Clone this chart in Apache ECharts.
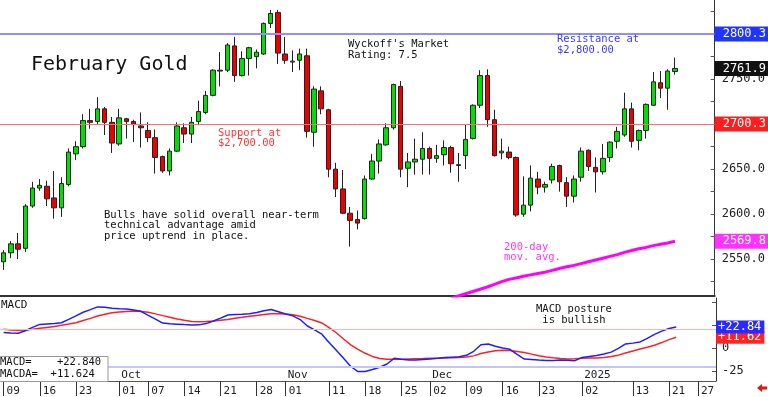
<!DOCTYPE html>
<html>
<head>
<meta charset="utf-8">
<title>February Gold</title>
<script src="https://cdn.jsdelivr.net/npm/echarts@6/dist/echarts.min.js"></script>
<style>
html, body { margin: 0; padding: 0; background: #fff; }
#chart { width: 768px; height: 397px; }
</style>
</head>
<body>
<div id="chart"></div>
<script>
// trading days (last five are empty slots on the right edge)
const dates = [
  '2024-09-09','2024-09-10','2024-09-11','2024-09-12','2024-09-13','2024-09-16','2024-09-17','2024-09-18','2024-09-19','2024-09-20','2024-09-23','2024-09-24','2024-09-25','2024-09-26','2024-09-27','2024-09-30',
  '2024-10-01','2024-10-02','2024-10-03','2024-10-04','2024-10-07','2024-10-08','2024-10-09','2024-10-10','2024-10-11','2024-10-14','2024-10-15','2024-10-16','2024-10-17','2024-10-18','2024-10-21','2024-10-22','2024-10-23','2024-10-24','2024-10-25','2024-10-28','2024-10-29','2024-10-30','2024-10-31',
  '2024-11-01','2024-11-04','2024-11-05','2024-11-06','2024-11-07','2024-11-08','2024-11-11','2024-11-12','2024-11-13','2024-11-14','2024-11-15','2024-11-18','2024-11-19','2024-11-20','2024-11-21','2024-11-22','2024-11-25','2024-11-26','2024-11-27','2024-11-29',
  '2024-12-02','2024-12-03','2024-12-04','2024-12-05','2024-12-06','2024-12-09','2024-12-10','2024-12-11','2024-12-12','2024-12-13','2024-12-16','2024-12-17','2024-12-18','2024-12-19','2024-12-20','2024-12-23','2024-12-24','2024-12-26','2024-12-27','2024-12-30','2024-12-31',
  '2025-01-02','2025-01-03','2025-01-06','2025-01-07','2025-01-08','2025-01-09','2025-01-10','2025-01-13','2025-01-14','2025-01-15','2025-01-16','2025-01-17','2025-01-21','2025-01-22',
  '2025-01-23','2025-01-24','2025-01-27','2025-01-28','2025-01-29'
];

const opens = [
  2547,2557,2567,2562,2609,2629,2631,2618,2607,2633,2667,2675,2704,2703,2717,2702,
  2678,2706,2703,2698,2693,2685,2664,2648,2670,2696,2689,2703,2713,2732,2760,2760,2787,2754,2773,2775,2778,2812,2824,
  2778,2769,2771,2776,2691,2737,2716,2650,2628,2601,2594,2595,2639,2659,2677,2696,2742,2651,2658,2661,
  2673,2662,2666,2674,2655,2665,2684,2721,2754,2705,2668,2669,2663,2600,2610,2639,2630,2638,2654,2635,2620,
  2641,2671,2652,2647,2663,2681,2688,2717,2682,2693,2721,2746,2740,2758.5
];
const highs = [
  2560,2570,2579,2611,2636,2639,2637,2648,2641,2673,2681,2711,2717,2730,2719,2708,
  2717,2707,2705,2713,2702,2694,2665,2673,2702,2701,2708,2726,2737,2761,2780,2790,2797,2781,2786,2783,2813,2827,2827,
  2797,2782,2784,2784,2742,2742,2717,2657,2649,2608,2604,2643,2667,2683,2701,2745,2748,2668,2684,2691,
  2675,2677,2682,2676,2668,2700,2722,2760,2761,2716,2684,2675,2664,2642,2654,2647,2636,2656,2655,2641,2643,
  2674,2672,2663,2678,2681,2697,2735,2724,2694,2723,2758,2759,2761,2774
];
const lows = [
  2538,2551,2550,2558,2607,2626,2609,2595,2597,2631,2660,2673,2695,2700,2688,2668,
  2676,2684,2680,2674,2680,2645,2646,2643,2669,2679,2679,2699,2711,2731,2742,2758,2747,2753,2754,2762,2777,2807,2767,
  2767,2758,2760,2685,2675,2711,2641,2619,2600,2564,2583,2594,2638,2645,2676,2694,2641,2630,2644,2644,
  2644,2657,2654,2646,2636,2650,2683,2718,2697,2664,2661,2661,2597,2597,2603,2622,2624,2634,2625,2608,2613,
  2636,2648,2624,2644,2658,2673,2686,2674,2671,2684,2720,2729,2716,2755
];
const closes = [
  2557,2567,2561,2609,2629,2632,2617,2607,2634,2669,2675,2704,2702,2717,2702,2679,
  2707,2703,2700,2696,2685,2663,2648,2670,2698,2689,2702,2714,2732,2760,2759,2788,2754,2773,2785,2780,2812,2823,2779,
  2771,2770,2778,2692,2739,2717,2650,2628,2601,2593,2590,2639,2659,2678,2696,2744,2650,2658,2661,2673,
  2662,2665,2674,2656,2654,2683,2721,2754,2705,2665,2670,2663,2599,2610,2640,2630,2633,2653,2636,2620,2639,
  2670,2653,2647,2662,2680,2692,2717,2681,2693,2722,2747,2740,2759,2761.9
];

// 200-day moving average, from 2024-12-05 on (earlier values are below the chart)
const ma200Tail = [
  2506.5,2509,2511.5,2514,2516.5,2519,2522,2525,2527.5,2529,2531,2532.5,2534,2535.5,2537.5,2539.5,2541.5,2543,
  2545,2547,2549,2551,2553,2555,2557.5,2559.5,2561.5,2563,2565,2566.5,2568,2569.8
];

const macd = [
  16.9,16.4,16.0,18.8,22.5,25.7,26.2,26.6,27.5,31.2,35.0,39.0,41.8,44.8,44.3,43.3,
  42.8,42.4,41.5,40.0,35.5,31.5,27.2,26.5,26.0,25.5,25.1,25.2,26.6,29.4,32.5,36.0,36.5,36.7,37.4,38.8,40.6,42.0,39.5,
  37.0,35.0,31.0,24.0,19.8,15.0,6.0,-2.5,-11.3,-20.2,-25.7,-25.7,-23.5,-21.0,-17.5,-11.3,-12.3,-13.0,-13.0,-12.5,
  -12.0,-11.3,-10.4,-10.0,-9.6,-8.0,-3.6,3.5,4.3,1.8,0.0,-1.4,-7.0,-12.1,-12.6,-13.2,-13.6,-13.6,-13.2,-13.4,-13.8,
  -10.3,-9.2,-8.2,-6.6,-4.5,-0.5,4.4,5.3,6.6,10.5,14.8,18.4,21.2,22.84
];
const macdAvg = [
  20.5,19.6,19.2,19.5,20.4,21.4,22.4,23.4,24.7,26.1,27.6,29.9,32.3,34.8,36.8,38.5,
  39.2,39.7,40.2,39.8,39.0,37.2,35.3,33.5,31.7,30.2,28.9,28.6,28.8,29.3,30.2,31.1,32.4,33.4,34.5,35.5,36.5,37.3,37.4,
  37.0,36.3,34.7,32.3,30.0,27.3,22.3,16.6,9.8,3.4,-1.5,-5.8,-9.2,-11.4,-12.3,-12.3,-12.3,-12.0,-11.8,-11.6,
  -11.3,-11.1,-10.9,-10.7,-10.5,-9.8,-8.6,-6.0,-4.3,-3.1,-2.5,-2.7,-3.8,-5.0,-6.7,-8.4,-9.8,-10.7,-11.5,-12.0,-11.8,
  -11.3,-11.0,-10.8,-10.3,-9.2,-7.8,-5.5,-3.2,-1.1,0.9,3.0,5.9,9.1,11.62
];

// axis labels
const dayTicks = ['2024-09-09','2024-09-16','2024-09-23','2024-10-01','2024-10-07','2024-10-14','2024-10-21','2024-10-28',
  '2024-11-01','2024-11-11','2024-11-18','2024-11-25','2024-12-02','2024-12-09','2024-12-16','2024-12-23',
  '2025-01-02','2025-01-13','2025-01-21','2025-01-27'];
const monthStarts = ['2024-10-01','2024-11-01','2024-12-02','2025-01-02'];
const monthNames = ['Oct','Nov','Dec','2025'];
const priceLabels = [2550, 2600, 2650, 2700, 2750, 2800];
const priceTicks = [2525, 2550, 2575, 2600, 2625, 2650, 2675, 2700, 2725, 2750, 2775, 2800, 2825];
const macdLabels = [0, -25];
const macdTicks = [-25, 0, 25, 50];

const resistance = 2800.3;
const support = 2700.3;
const lastClose = 2761.9;
const lastMa = 2569.8;

const FONT = '"DejaVu Sans Mono", monospace';
const chart = echarts.init(document.getElementById('chart'));

const candles = opens.map((o, i) => [o, closes[i], lows[i], highs[i]]);
const ma200 = new Array(opens.length - ma200Tail.length).fill('-').concat(ma200Tail);
const hidden = { color: 'rgba(0,0,0,0)', width: 0 };

function boxLabel(bg, text, pad) {
  return {
    show: true, position: 'end', distance: 0, formatter: text,
    color: '#fff', backgroundColor: bg, fontFamily: FONT, fontSize: 12,
    padding: pad || [2, 3, 1, 8]
  };
}
function txt(x, y, text, size, color, lh) {
  return {
    type: 'text', x: x, y: y, silent: true, z: 50,
    style: { text: text, fontFamily: FONT, fontSize: size, fill: color || '#111',
      lineHeight: lh || size + 1, verticalAlign: 'middle', align: 'left' }
  };
}
// the callback gets the category index first, so look the date up by index
const isDayTick = (i) => dayTicks.indexOf(dates[i]) >= 0;
const isMonthStart = (i) => monthStarts.indexOf(dates[i]) >= 0;

const option = {
  animation: false,
  backgroundColor: '#fff',
  grid: [
    { left: -1, right: 52, top: 0, height: 296 },
    { left: -1, right: 52, top: 298, height: 83 }
  ],
  xAxis: [
    {
      type: 'category', gridIndex: 0, data: dates,
      axisLine: { onZero: false, lineStyle: { color: '#333', width: 2 } },
      axisTick: { show: false }, axisLabel: { show: false }, splitLine: { show: false }
    },
    {
      type: 'category', gridIndex: 1, data: dates, position: 'bottom',
      axisLine: { show: true, onZero: false, lineStyle: { color: '#555', width: 1 } },
      axisTick: { show: true, alignWithLabel: true, length: 15, interval: isDayTick,
        lineStyle: { color: '#333', width: 1 } },
      axisLabel: { show: true, interval: isDayTick, formatter: v => v.slice(8),
        align: 'left', padding: [0, 0, 0, 3], margin: 5,
        fontFamily: FONT, fontSize: 11, color: '#222' },
      splitLine: { show: false }
    },
    {
      type: 'category', gridIndex: 1, data: dates, position: 'bottom',
      axisLine: { show: false, onZero: false }, axisTick: { show: false },
      axisLabel: { inside: true, interval: isMonthStart,
        formatter: v => monthNames[monthStarts.indexOf(v)] || '',
        align: 'left', padding: [0, 0, 0, 2], margin: 0,
        fontFamily: FONT, fontSize: 11, color: '#222' },
      splitLine: { show: false }
    }
  ],
  yAxis: [
    {
      type: 'value', gridIndex: 0, position: 'right', min: 2509, max: 2838,
      splitLine: { show: false },
      axisLine: { show: true, lineStyle: { color: '#333' } },
      axisTick: { show: true, inside: true, length: 4, customValues: priceTicks, lineStyle: { color: '#555' } },
      axisLabel: { customValues: priceLabels, formatter: v => v.toFixed(1), margin: 7,
        fontFamily: FONT, fontSize: 12, color: '#222' }
    },
    {
      type: 'value', gridIndex: 1, position: 'right', min: -36, max: 54.5,
      splitLine: { show: false },
      axisLine: { show: true, lineStyle: { color: '#333' } },
      axisTick: { show: true, inside: true, length: 4, customValues: macdTicks, lineStyle: { color: '#555' } },
      axisLabel: { customValues: macdLabels, formatter: v => String(v), margin: 6,
        fontFamily: FONT, fontSize: 12, color: '#222' }
    }
  ],
  series: [
    {
      name: 'February Gold', type: 'candlestick', xAxisIndex: 0, yAxisIndex: 0,
      data: candles, barWidth: 5,
      itemStyle: { color: '#00e000', color0: '#ee0000', borderColor: '#222', borderColor0: '#222', borderWidth: 1 },
      markLine: {
        symbol: 'none', silent: true, animation: false,
        data: [
          { yAxis: resistance, lineStyle: { color: '#8f8fff', width: 2, type: 'solid' },
            label: boxLabel('#2036ff', resistance.toFixed(1)) },
          { yAxis: support, lineStyle: { color: '#ff6e6e', width: 1, type: 'solid' },
            label: boxLabel('#ff1e1e', support.toFixed(1)) },
          { yAxis: lastClose, lineStyle: hidden,
            label: boxLabel('#111', lastClose.toFixed(1)) }
        ]
      }
    },
    {
      name: '200-day mov. avg.', type: 'line', xAxisIndex: 0, yAxisIndex: 0,
      data: ma200, showSymbol: false, symbol: 'none',
      lineStyle: { color: '#ff00ff', width: 3 },
      markLine: {
        symbol: 'none', silent: true, animation: false,
        data: [{ yAxis: lastMa, lineStyle: hidden, label: boxLabel('#ff33ff', lastMa.toFixed(1)) }]
      }
    },
    {
      name: 'MACDA', type: 'line', xAxisIndex: 1, yAxisIndex: 1,
      data: macdAvg, symbol: 'none', lineStyle: { color: '#ff2020', width: 1.5 },
      markLine: {
        symbol: 'none', silent: true, animation: false,
        data: [
          { yAxis: 20, lineStyle: { color: '#ffb4b4', width: 1, type: 'solid' }, label: { show: false } },
          { yAxis: -20, lineStyle: { color: '#c4c4ff', width: 2, type: 'solid' }, label: { show: false } },
          { yAxis: macdAvg[macdAvg.length - 1], lineStyle: hidden,
            label: boxLabel('#ff2424', '+' + macdAvg[macdAvg.length - 1].toFixed(2), [1, 3, 0, 2]) }
        ]
      }
    },
    {
      name: 'MACD', type: 'line', xAxisIndex: 1, yAxisIndex: 1,
      data: macd, symbol: 'none', lineStyle: { color: '#1e1eff', width: 1.5 },
      markLine: {
        symbol: 'none', silent: true, animation: false,
        data: [
          { yAxis: macd[macd.length - 1], lineStyle: hidden,
            label: boxLabel('#2a2aff', '+' + macd[macd.length - 1].toFixed(2), [1, 3, 0, 2]) }
        ]
      }
    }
  ],
  graphic: [
    txt(31, 64.5, 'February Gold', 20, '#111', 22),
    txt(348, 50, "Wyckoff's Market\nRating: 7.5", 10.5, '#111', 11),
    txt(557, 45, 'Resistance at\n$2,800.00', 10.5, '#3a3aff', 10.8),
    txt(218, 138, 'Support at\n$2,700.00', 10.5, '#ff3434', 10),
    txt(104, 225.3, 'Bulls have solid overall near-term\ntechnical advantage amid\nprice uptrend in place.', 10.5, '#111', 10.5),
    txt(504, 252.2, '200-day\nmov. avg.', 10.5, '#ff36ff', 10.5),
    txt(536, 314.5, 'MACD posture\n is bullish', 10.5, '#111', 11),
    txt(1, 305, 'MACD', 11, '#111', 12),
    {
      type: 'rect', z: 49, silent: true,
      shape: { x: -1, y: 356.5, width: 109, height: 25 },
      style: { fill: '#fff', stroke: '#999', lineWidth: 1 }
    },
    txt(0, 368, 'MACD=    +22.840\nMACDA=  +11.624', 10.5, '#111', 11.7),
    {
      type: 'polygon', silent: true, z: 50,
      shape: { points: [[757, 388], [762, 384], [762, 386.5], [767, 386.5], [767, 389.5], [762, 389.5], [762, 392]] },
      style: { fill: '#ee1111' }
    }
  ]
};

chart.setOption(option);
</script>
</body>
</html>
